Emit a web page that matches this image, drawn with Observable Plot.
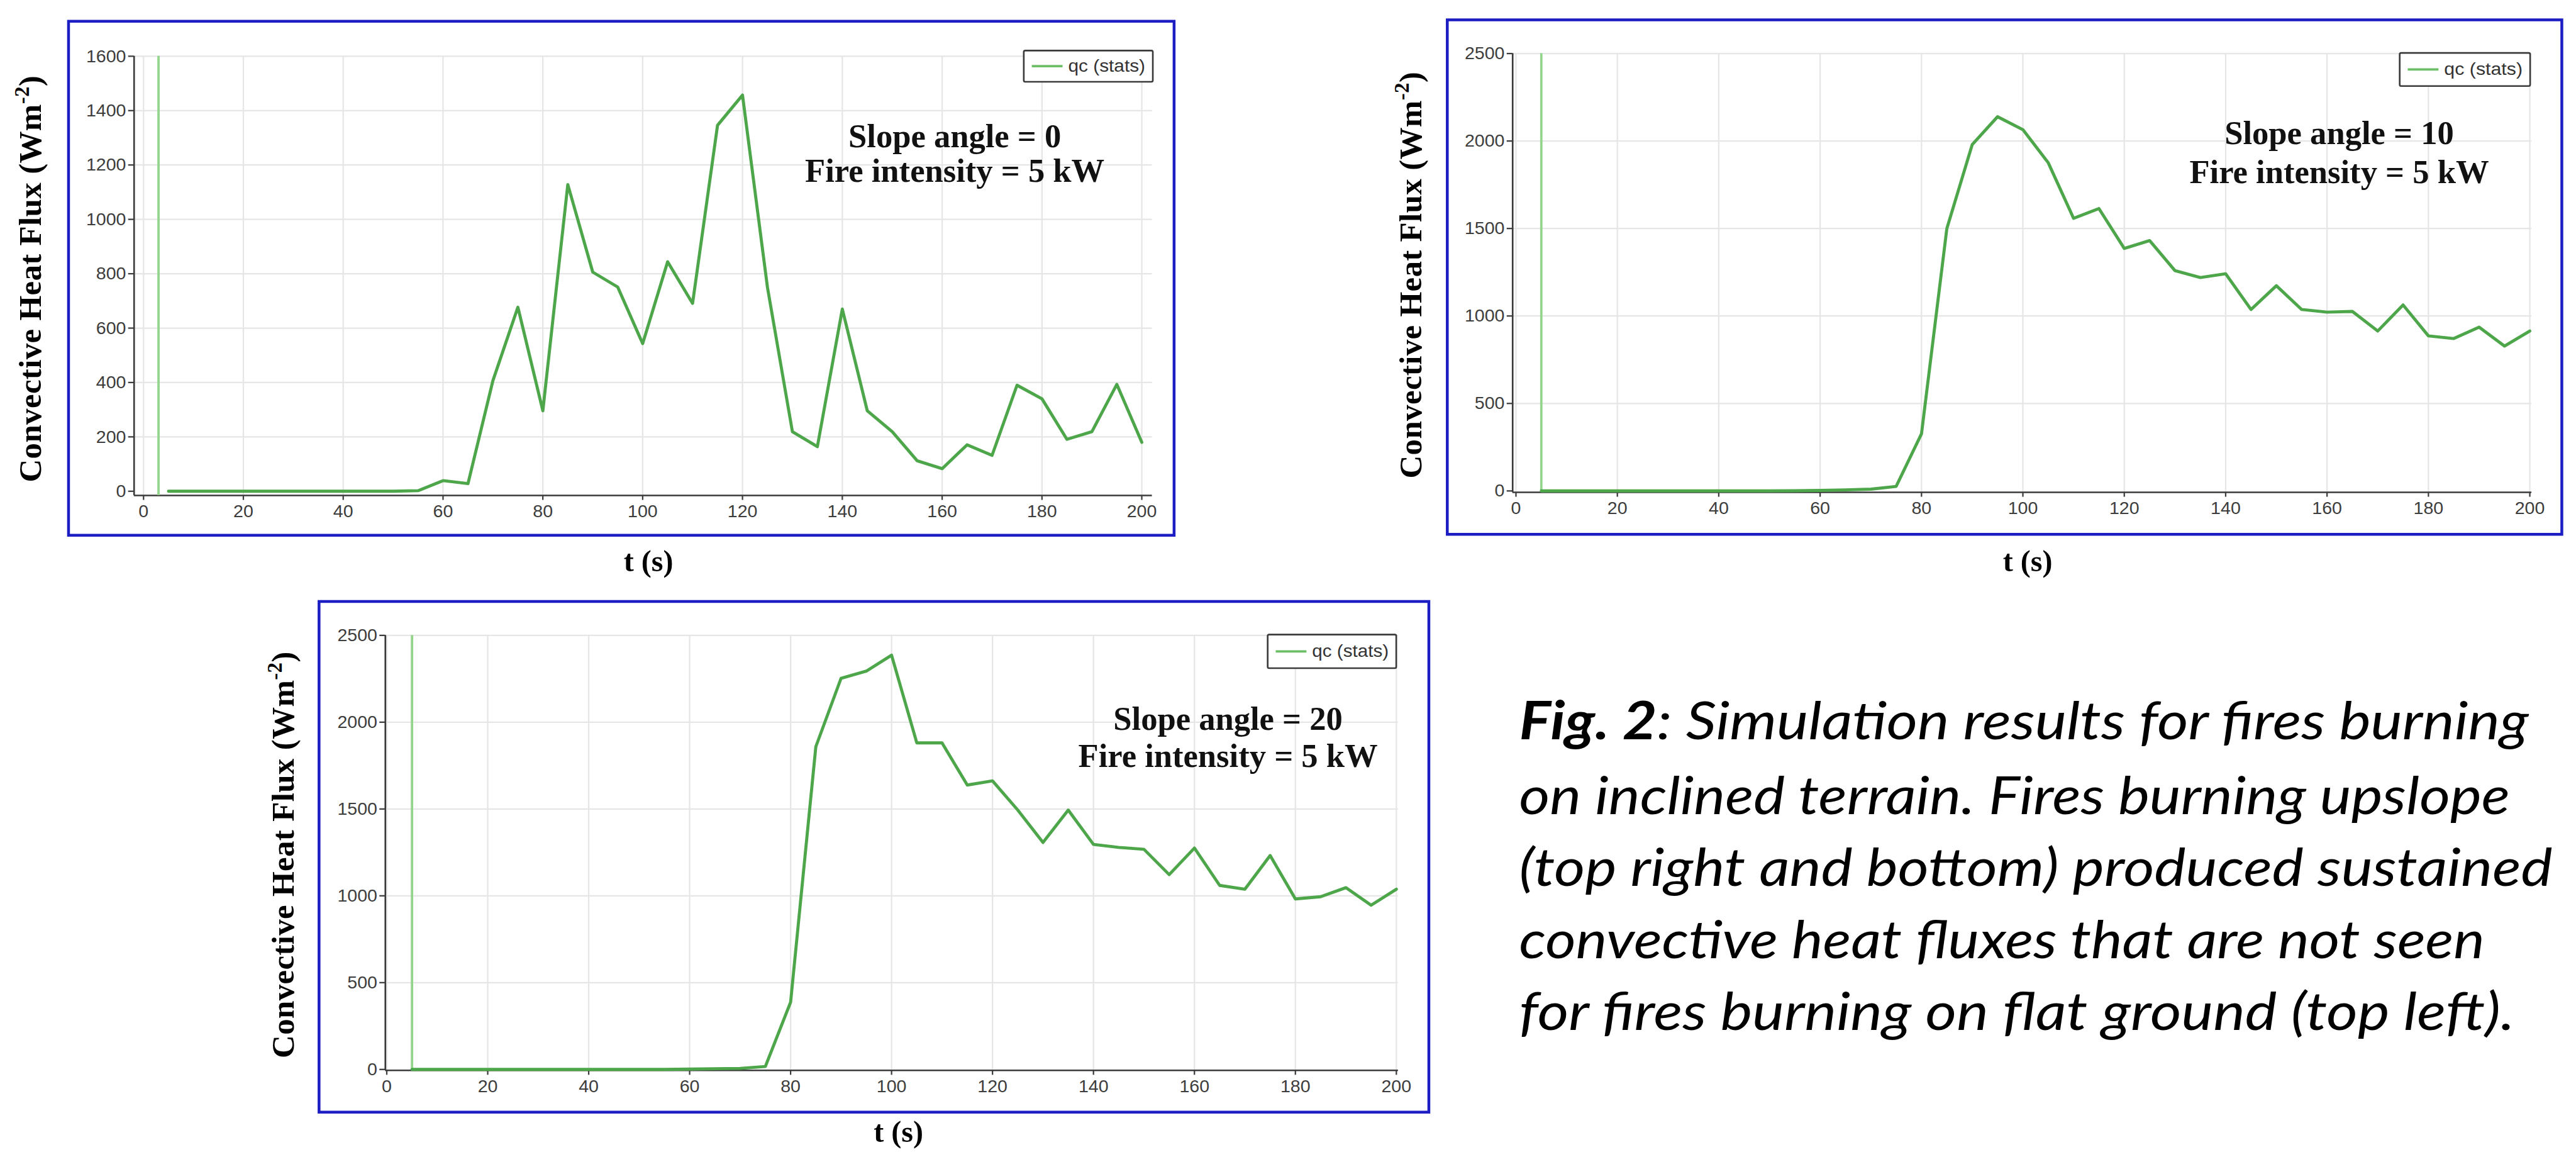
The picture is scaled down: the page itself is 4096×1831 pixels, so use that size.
<!DOCTYPE html>
<html>
<head>
<meta charset="utf-8">
<script src="https://cdn.jsdelivr.net/npm/d3@7"></script>
<script src="https://cdn.jsdelivr.net/npm/@observablehq/plot@0.6"></script>
<style>
  html, body { margin: 0; padding: 0; background: #ffffff; }
  #root { position: relative; width: 4096px; height: 1831px; overflow: hidden; background: #ffffff; }
</style>
</head>
<body>
<div id="root"></div>
<script>
// ---------------- data ----------------
const timeS = [5,10,15,20,25,30,35,40,45,50,55,60,65,70,75,80,85,90,95,100,
               105,110,115,120,125,130,135,140,145,150,155,160,165,170,175,180,185,190,195,200];
const qcSlope0  = [0,0,0,0,0,0,0,0,0,0,2,39,28,407,677,296,1128,806,751,543,
                   844,691,1346,1457,750,219,164,670,296,219,112,83,171,132,390,340,191,219,393,180];
const qcSlope10 = [0,0,0,0,0,0,0,0,0,0,1,3,6,10,26,327,1500,1979,2139,2065,
                   1876,1558,1614,1386,1431,1259,1220,1241,1037,1173,1037,1022,1026,914,1063,886,871,936,828,914];
const qcSlope20 = [0,0,0,0,0,0,0,0,0,0,0,2,4,6,17,387,1859,2253,2294,2386,
                   1881,1881,1638,1662,1494,1307,1494,1296,1279,1268,1122,1275,1060,1038,1232,982,995,1047,946,1038];
const xTicks = [0,20,40,60,80,100,120,140,160,180,200];
const yTicksFlat = [0,200,400,600,800,1000,1200,1400,1600];
const yTicksSlope = [0,500,1000,1500,2000,2500];
const slopeAngles = [0,10,20];
const fireIntensity = ["5 kW","5 kW","5 kW"];
const probeTimes = [3,5,5];
const seriesLabel = "qc (stats)";
const yTitleMain = "Convective Heat Flux (Wm";
const yTitleSup = "-2";
const xTitle = "t (s)";
const captionBold = "Fig. 2";
const captionLines = [
  ": Simulation results for fires burning",
  "on inclined terrain. Fires burning upslope",
  "(top right and bottom) produced sustained",
  "convective heat fluxes that are not seen",
  "for fires burning on flat ground (top left)."
];

// ---------------- layout (reference pixels) ----------------
const S = 4096 / 5450;
const panels = [
  {values: qcSlope0, yTicks: yTicksFlat, yMax: 1600,
   box:[145,45,2484,1132], yAxisX:283, x0:303, x200:2415, xEnd:2437, y0:1038, yTop:118, xAxisY:1047,
   legend:[2166,107,2439,173], annot:{cx:2020,b1:312,b2:385}, yLab:{x:87,cy:590}, xLab:{cx:1372,b:1208}},
  {values: qcSlope10, yTicks: yTicksSlope, yMax: 2500,
   box:[3062,42,5420,1130], yAxisX:3200, x0:3207, x200:5352, xEnd:5356, y0:1037, yTop:112, xAxisY:1040,
   legend:[5077,112,5353,182], annot:{cx:4949,b1:305,b2:387}, yLab:{x:3007,cy:582}, xLab:{cx:4290,b:1208}},
  {values: qcSlope20, yTicks: yTicksSlope, yMax: 2500,
   box:[675,1272,3023,2352], yAxisX:815, x0:818, x200:2954, xEnd:2958, y0:2261, yTop:1343, xAxisY:2263,
   legend:[2682,1342,2954,1413], annot:{cx:2598,b1:1543,b2:1622}, yLab:{x:622,cy:1808}, xLab:{cx:1901,b:2415}}
];
const caption = {x:3214, baselines:[1564,1722,1874,2026,2178], widths:[2136,2096,2186,2043,2106], size:112};

const root = document.getElementById("root");
const fmt = d => String(d);

panels.forEach((p, i) => {
  const [l,t,r,b] = p.box;
  const pxX = (p.x200 - p.x0) / 200;
  const xLo = (p.yAxisX - p.x0) / pxX;
  const xHi = 200 + (p.xEnd - p.x200) / pxX;
  const pxY = (p.y0 - p.yTop) / p.yMax;
  const yLo = -(p.xAxisY - p.y0) / pxY;
  const data = timeS.map((tt, k) => ({t: tt, q: p.values[k]}));
  const chart = Plot.plot({
    width: (r - l) * S,
    height: (b - t) * S,
    marginLeft: (p.yAxisX - l) * S,
    marginRight: (r - p.xEnd) * S,
    marginTop: (p.yTop - t) * S,
    marginBottom: (b - p.xAxisY) * S,
    x: {domain: [xLo, xHi]},
    y: {domain: [yLo, p.yMax]},
    style: `position:absolute;left:${l*S}px;top:${t*S}px;background:transparent;overflow:visible;max-width:none;font-family:'Liberation Sans',Arial,sans-serif;font-size:${38*S}px;color:#3d3d3d;`,
    marks: [
      Plot.gridX(xTicks, {stroke: "#e6e6e6", strokeOpacity: 1, strokeWidth: 3*S}),
      Plot.gridY(p.yTicks.filter(v => v > 0), {stroke: "#e6e6e6", strokeOpacity: 1, strokeWidth: 3*S}),
      Plot.ruleX([xLo], {stroke: "#3a3a3a", strokeWidth: 3.5*S}),
      Plot.ruleY([yLo], {stroke: "#3a3a3a", strokeWidth: 3.5*S}),
      Plot.axisY(p.yTicks, {tickSize: 12*S, tickPadding: 5*S, tickFormat: fmt, label: null, color: "#3d3d3d", fontSize: 38*S, strokeWidth: 3*S}),
      Plot.axisX(xTicks, {tickSize: 10*S, tickPadding: 9*S, tickFormat: fmt, label: null, color: "#3d3d3d", fontSize: 38*S, strokeWidth: 3*S}),
      Plot.ruleX([probeTimes[i]], {stroke: "#93d68b", strokeWidth: 5*S}),
      Plot.line(data, {x: "t", y: "q", stroke: "#4ea64a", strokeWidth: 6.5*S, strokeLinejoin: "round"})
    ]
  });
  root.appendChild(chart);
});

// ---------------- overlay: frames, titles, legends, annotations, caption ----------------
const svg = d3.create("svg")
  .attr("width", 4096).attr("height", 1831)
  .style("position", "absolute").style("left", "0px").style("top", "0px");
const g = svg.append("g").attr("transform", `scale(${S})`);

panels.forEach((p, i) => {
  const [l,t,r,b] = p.box;
  g.append("rect").attr("x", l).attr("y", t).attr("width", r - l).attr("height", b - t)
    .attr("fill", "none").attr("stroke", "#1d1dc4").attr("stroke-width", 6);

  // legend
  const [ll, lt, lr, lb] = p.legend;
  const lcy = (lt + lb) / 2;
  g.append("rect").attr("x", ll).attr("y", lt).attr("width", lr - ll).attr("height", lb - lt)
    .attr("rx", 3).attr("fill", "#ffffff").attr("stroke", "#3a3a3a").attr("stroke-width", 3.5);
  g.append("line").attr("x1", ll + 17).attr("x2", ll + 82).attr("y1", lcy).attr("y2", lcy)
    .attr("stroke", "#6cbf66").attr("stroke-width", 5);
  g.append("text").attr("x", ll + 94).attr("y", lcy + 12)
    .attr("font-family", "'Liberation Sans', Arial, sans-serif").attr("font-size", 38)
    .attr("fill", "#333").attr("textLength", lr - ll - 110).attr("lengthAdjust", "spacingAndGlyphs")
    .text(seriesLabel);

  // annotation
  const af = "'Liberation Serif', 'Times New Roman', serif";
  g.append("text").attr("x", p.annot.cx).attr("y", p.annot.b1).attr("text-anchor", "middle")
    .attr("font-family", af).attr("font-weight", "bold").attr("font-size", 70).attr("fill", "#111")
    .text(`Slope angle = ${slopeAngles[i]}`);
  g.append("text").attr("x", p.annot.cx).attr("y", p.annot.b2).attr("text-anchor", "middle")
    .attr("font-family", af).attr("font-weight", "bold").attr("font-size", 70).attr("fill", "#111")
    .text(`Fire intensity = ${fireIntensity[i]}`);

  // y title
  const yt = g.append("text")
    .attr("transform", `translate(${p.yLab.x},${p.yLab.cy}) rotate(-90)`)
    .attr("text-anchor", "middle")
    .attr("font-family", af).attr("font-weight", "bold").attr("font-size", 68).attr("fill", "#000")
    .attr("textLength", 860).attr("lengthAdjust", "spacing");
  yt.append("tspan").text(yTitleMain);
  yt.append("tspan").attr("dy", -26).attr("font-size", 44).text(yTitleSup);
  yt.append("tspan").attr("dy", 26).text(")");

  // x title
  g.append("text").attr("x", p.xLab.cx).attr("y", p.xLab.b).attr("text-anchor", "middle")
    .attr("font-family", af).attr("font-weight", "bold").attr("font-size", 64).attr("fill", "#000")
    .text(xTitle);
});

// caption
captionLines.forEach((line, k) => {
  const tx = g.append("text").attr("x", caption.x).attr("y", caption.baselines[k])
    .attr("font-family", "Lato, 'Open Sans', sans-serif").attr("font-style", "italic")
    .attr("font-size", caption.size).attr("fill", "#000")
    .attr("textLength", caption.widths[k]).attr("lengthAdjust", "spacingAndGlyphs");
  if (k === 0) tx.append("tspan").attr("font-weight", "bold").text(captionBold);
  tx.append("tspan").text(line);
});

root.appendChild(svg.node());
</script>
</body>
</html>
